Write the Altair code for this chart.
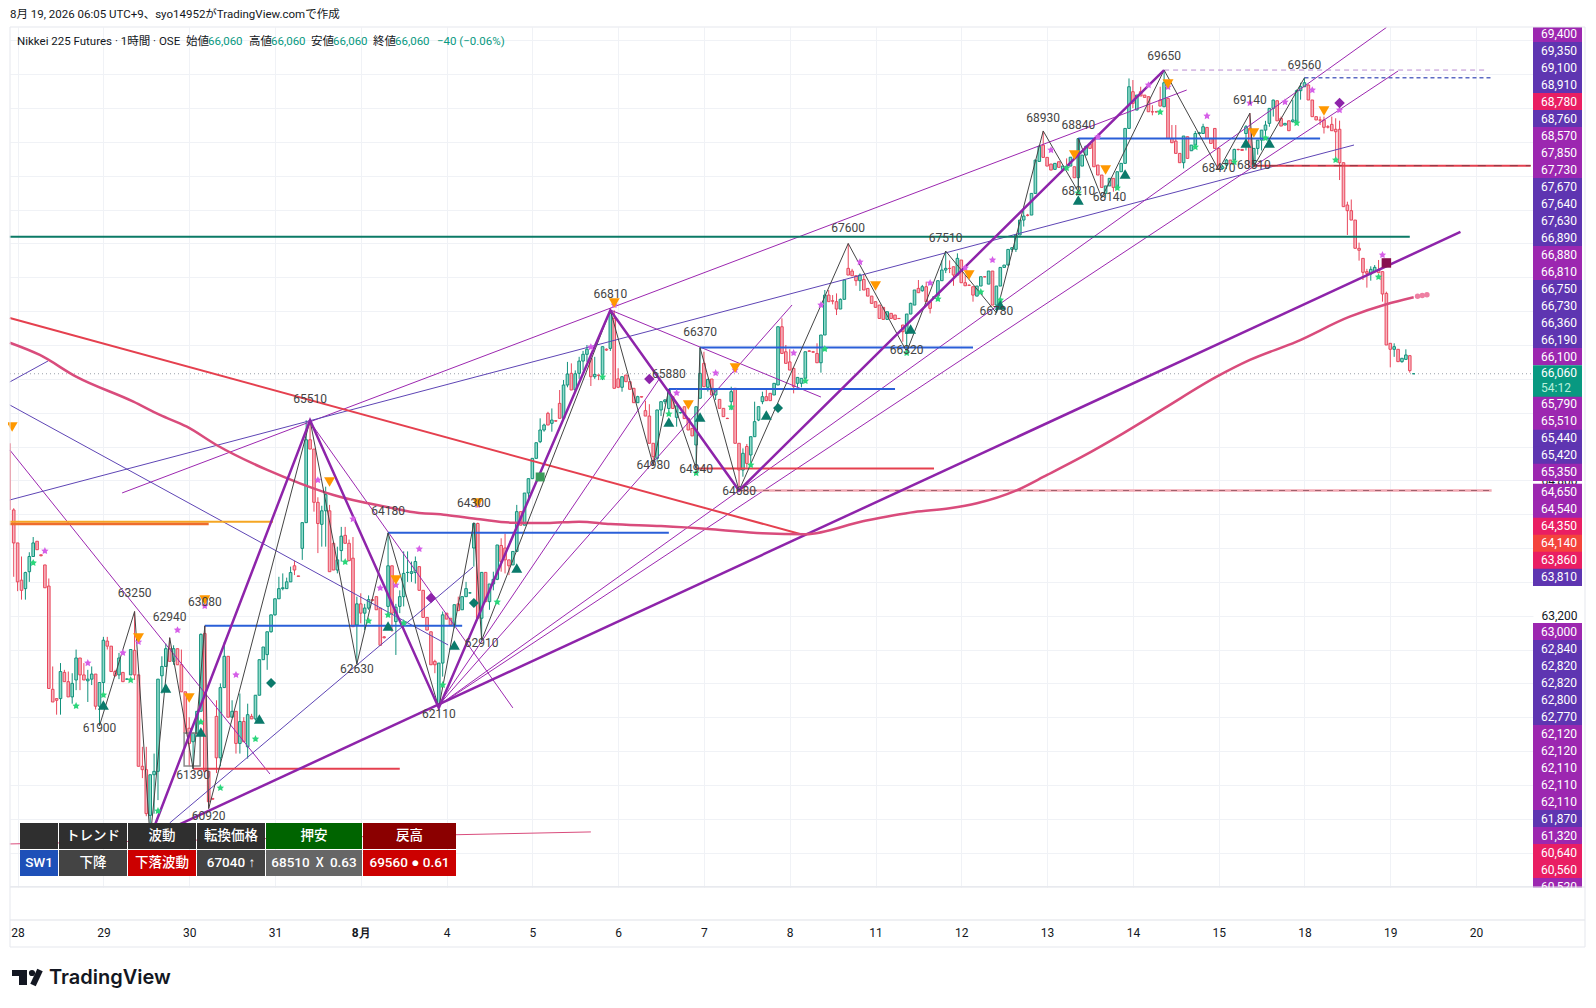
import altair as alt
import pandas as pd

# candles: (open, close, high, low), one bar per hour
S1 = [(64450,64060,64470,63660),(64060,63600,64060,63490),(63620,63500,63900,63390),(63520,63710,63720,63390),
(63720,63900,63950,63600),(63900,64060,64130,63900),(64080,63980,64080,63980),(63920,63910,63920,63900),
(63800,63530,63800,63530),(63550,62340,63640,62340),(62330,62180,62600,62180),(62220,62200,62220,62030),
(62220,62540,62640,62030),(62530,62420,62560,62420),(62420,62240,62540,62240),(62240,62400,62520,62160),
(62440,62700,62800,62320),(62700,62500,62700,62320),(62500,62440,62640,62440),(62430,62450,62560,62180),
(62450,62510,62600,62380),(62510,62130,62510,62090),(62130,62410,62410,61900),(62410,62910,62950,62280),
(62900,62840,62950,62800),(62840,62540,62840,62540),(62540,62490,62560,62480),(62500,62700,62760,62450),
(62530,62420,62530,62420),(62450,62450,62460,62440),(62500,62800,62800,62500),(62790,62500,63250,62440),
(62500,61420,62500,61420),(61420,61380,61650,61280),(61380,60860,61650,60830),(60840,61320,61320,60560),
(61320,61360,61570,60860),(61360,62450,62450,61020),(62490,62600,62720,62280),(62600,62810,62870,62600),
(62810,62660,62940,62660),(62660,62810,62850,62620),(62810,62620,62810,62620),(62620,62300,62800,62300),
(62300,61810,62300,61810),(61870,61690,62000,61420),(61710,61810,61820,61390),(61810,62070,62070,61810),
(62070,62980,62990,62070),(62990,61360,63080,61360),(61360,61000,61360,60920),(61040,61030,61040,61030),
(62010,61520,62200,61340),(61520,62350,62400,61420),(62350,62720,62890,62350),(62720,62000,62720,62000),
(62000,62070,62200,62000),(62070,61690,62070,61570),(61690,61950,62280,61570),(61950,61710,62000,61710),
(61650,62030,62160,61510),(62010,61980,62040,61980),(61980,62260,62260,61960),(62260,62680,62680,62260),
(62680,62830,62830,62680),(62740,63010,63010,62560),(63010,63210,63210,63000),(63210,63400,63400,63200),
(63400,63520,63660,63400),(63520,63530,63700,63500),(63520,63600,63650,63520),(63600,63710,63780,63600),
(63790,63740,63850,63680),(63670,63665,63670,63660)]
S2 = [(63996,64300,64300,63860),(64300,65280,65510,64300),(65280,65170,65510,65170),(65170,64540,65170,64430),
(64540,64290,64600,63940),(64280,64440,64500,64016),(64440,64630,64725,64016),(64440,63720,64510,63720),
(64056,63740,64056,63740),(63740,63860,64016,63700),(63970,64140,64250,63840),(64150,64056,64250,64056),
(64056,63850,64100,63850),(63880,63070,64130,63070),(63090,63340,63425,62630),(63340,63230,63465,63110),
(63230,63290,63340,63030),(63290,63390,63440,63270),(63390,63380,63400,63370),(63425,63270,63425,63270),
(63290,62850,63290,62850),(62950,62940,62960,62930),(63310,63790,64180,63230),(63790,63230,63790,63010),
(63130,63300,63340,62736),(63310,63425,63500,63230),(63425,63700,63960,63310),(63710,63712,63960,63600),
(63700,63720,63840,63600),(63710,63840,63900,63580),(63780,63500,63780,63500),(63500,63180,63500,63180),
(63180,63030,63180,63030),(63010,62620,63010,62620),(62660,62620,62680,62520),(62160,62640,62640,62110),
(62640,63210,63250,62480),(63230,63160,63230,63160),(63170,63090,63170,63090),(63090,63330,63330,63050),
(63340,63260,63425,63260),(63270,63425,63425,63270),(63425,63520,63600,63425),(63470,63470,63480,63460),
(64000,64290,64290,63780),(64290,63170,64300,63170),(63170,63712,63712,62910),(63712,63366,63712,63366),
(63366,63575,63575,63270),(63575,63630,63720,63500),(63630,64036,64036,63620),(64030,63840,64115,63720),
(64000,63860,64170,63700),(63860,63790,63860,63680),(63800,63960,63960,63800),(63960,64430,64510,63960),
(64430,64270,64430,64270),(64270,64650,64650,64270),(64650,64820,64820,64570),(64820,65060,65060,64820),
(65060,65245,65245,65060),(65257,65395,65533,65240),(65395,65454,65470,65375),(65592,65454,65610,65454),
(65474,65513,65650,65375),(65505,65500,65510,65495),(65710,65533,65868,65533),(65533,65927,65986,65533)]
S3 = [(65927,66057,66200,65900),(66065,65868,66183,65868),(65870,66060,66100,65850),(66065,66210,66260,66000),
(66210,66290,66330,66100),(66290,66350,66400,66200),(66240,66025,66300,65915),(66025,66053,66260,66000),
(66045,66040,66050,65985),(66053,66380,66380,65985),(66350,66340,66360,66330),(66360,66774,66810,66330),
(66715,65888,66810,65888),(66000,65900,66125,65890),(65900,66025,66025,65848),(66045,65966,66045,65966),
(65966,65876,65966,65876),(65888,65718,65888,65718),(65718,65789,65800,65718),(65789,65785,65790,65780),
(65624,65560,65742,65560),(65560,65238,65700,65238),(65238,65080,65238,64980),(65060,65632,65632,65020),
(65632,65730,65730,65560),(65730,65750,65760,65700),(65650,65870,65880,65600),(65789,65650,65789,65650),
(65545,65680,65680,65435),(65600,65600,65610,65590),(65670,65530,65670,65530),(65533,65395,65533,65395),
(65415,65325,65415,65325),(65218,65670,65670,64940),(65770,66065,66370,65770),(66183,65907,66320,65907),
(65900,65994,66000,65850),(65998,65809,65998,65809),(65809,65870,65870,65750),(65757,65651,65757,65651),
(65651,65553,65651,65553),(65533,65530,65540,65525),(65730,65848,65907,65630),(65888,65238,65888,65238),
(65238,64922,65238,64680),(64922,65120,65178,64843),(65200,65000,65230,64950),(65100,65316,65316,64981),
(65316,65494,65730,65316),(65513,65671,65671,65500),(65730,65789,65848,65700),(65789,65742,65868,65742),
(65829,65742,65829,65742),(65809,65947,65947,65809),(65927,66616,66616,65927),(66616,66300,66715,66300),
(66320,66183,66400,66183),(66200,66104,66350,66104),(66124,65907,66124,65828),(65947,66017,66017,65900),
(65947,66006,66006,65900),(66006,66320,66320,66006),(66330,66325,66340,66320),(66320,66315,66330,66310),
(66300,66190,66420,66190),(66190,66518,66518,66073),(66518,66990,67050,66518),(66990,66912,67050,66912),
(66923,66918,66990,66880),(66912,66825,67010,66754),(66825,66940,66950,66825),(66940,67168,67168,66940)]
S4 = [(67306,67227,67600,67227),(67274,67219,67300,67219),(67219,67160,67219,67100),(67160,67227,67246,67038),
(67175,67050,67227,67050),(67069,66978,67069,66978),(66978,66892,66978,66892),(66912,66845,66912,66845),
(66872,66714,66872,66714),(66845,66703,66845,66703),(66703,66793,66793,66703),(66774,66714,66774,66714),
(66754,66703,66754,66703),(66714,66712,66716,66710),(66636,66557,66636,66439),(66537,66766,66766,66320),
(66766,66892,66900,66766),(66872,67050,67050,66872),(67069,67018,67168,67018),(67041,67089,67110,67030),
(67089,66912,67148,66912),(66912,66833,66912,66773),(66951,66971,66971,66951),(66978,67160,67160,66978),
(67160,67286,67400,67160),(67286,67306,67510,67250),(67306,67304,67400,67250),(67325,67227,67325,67100),
(67227,67424,67483,67227),(67404,67136,67404,67136),(67136,67100,67227,67100),(67108,67105,67112,67100),
(67089,66990,67089,66912),(66978,67097,67097,66978),(67097,67207,67207,67097),(67207,67205,67210,67200),
(67120,67274,67274,67120),(67274,66872,67274,66872),(66872,67097,67097,66780),(67097,67317,67317,67097),
(67317,67345,67345,67317),(67345,67530,67530,67345),(67530,67550,67550,67500),(67530,67700,67700,67500),
(67700,67877,67877,67700),(67877,67924,67995,67800),(67936,67932,67950,67920),(67936,68192,68192,67936)]
S5 = [(68192,68586,68586,68192),(68570,68750,68750,68570),(68763,68618,68930,68618),(68618,68515,68618,68515),
(68539,68468,68539,68468),(68476,68547,68547,68476),(68566,68500,68566,68500),(68476,68515,68515,68476),
(68507,68505,68606,68500),(68515,68620,68620,68515),(68507,68377,68507,68377),(68377,68840,68840,68210),
(68515,68645,68645,68515),(68645,68750,68750,68645),(68775,68724,68775,68724),(68830,68507,68840,68507),
(68527,68409,68527,68409),(68409,68263,68409,68263),(68192,68280,68280,68140),(68280,68370,68370,68280),
(68370,68263,68370,68212),(68251,68448,68448,68251),(68448,68547,68547,68448),(68547,68960,68960,68547),
(68960,69453,69551,68960),(69394,69256,69532,69200),(69177,69354,69354,69177),(69394,69343,69453,69343),
(69354,69327,69354,69327),(69335,69157,69335,69157),(69157,69155,69235,69115),(69157,69155,69160,69150),
(69295,69224,69453,69224),(69216,69500,69650,69216),(69315,68842,69315,68842),(68842,68791,69000,68791),
(68810,68665,69000,68665),(68665,68555,68665,68555),(68555,68870,68870,68487),(68862,68606,68862,68606),
(68696,68763,68763,68696),(68763,68900,68930,68763),(68900,68910,68920,68890),(68900,68980,69015,68900),
(68972,68842,68972,68842),(68842,68783,68842,68783),(68960,68724,68960,68724),(68724,68487,68724,68470)]
S6 = [(68487,68507,68530,68470),(68527,68586,68600,68480),(68586,68540,68586,68540),(68586,68712,68720,68540),
(68712,68710,68720,68700),(68712,68700,68712,68700),(68900,68980,69000,68700),(68960,68507,69140,68507),
(68507,68724,68724,68510),(68724,68822,68822,68650),(68822,68940,68940,68700),(68940,69000,69050,68880),
(69020,69197,69200,68980),(69197,69295,69300,69100),(69287,69050,69290,69050),(69078,68988,69100,68988),
(69000,69020,69020,69000),(69050,68933,69050,68933),(69040,69060,69300,69030),(69039,69406,69420,69039),
(69406,69453,69500,69300),(69453,69500,69560,69450),(69473,69296,69480,69296),(69296,69099,69296,69099),
(69099,69060,69099,69060),(69060,69058,69100,69000),(69060,68973,69100,68900),(68980,68975,69000,68960),
(69008,68933,69100,68933),(68950,68921,69080,68587),(68950,68555,69052,68350),(68555,68035,68555,68035)]
S7 = [(68055,67988,68094,67700),(67988,67877,68120,67877),(67877,67543,67877,67543),(67543,67520,67610,67397),
(67424,67259,67424,67168),(67267,67247,67300,67078),(67239,67294,67330,67160),(67267,67318,67345,67250),
(67286,67255,67405,67255),(67267,67003,67267,66912),(67010,66400,67030,66400),(66420,66349,66420,66136),
(66349,66380,66420,66260),(66349,66203,66349,66203),(66203,66243,66243,66190),(66230,66282,66349,66230),
(66274,66097,66274,66073),(66060,66060,66060,66060)]

DAY_LABELS = ["28","29","30","31","8月","4","5","6","7","8","11","12","13","14","15","18","19","20"]
Y_LABELS_SHOWN = [63200, 64800]

ZIGZAG = [(22,61900),(31,63250),(35,60560),(40,62940),(46,61390),(49,63080),(50,60920),(76,65510),(88,62630),(96,64180),
(109,62110),(118,64300),(120,62910),(153,66810),(164,64980),(168,65880),(175,64940),(176,66370),(186,64680),(214,67600),
(229,66320),(239,67510),(252,66780),(264,68930),(273,68210),(273,68840),(279,68140),(295,69650),(309,68470),(317,69140),
(318,68510),(331,69560)]
# pivot captions: (text, bar, price level of the caption's middle)
PIVOT_TEXT = [("61900",22,61873),("63250",31,63469),("60560",35,60490),("62940",40,63185),("61390",46,61318),("63080",49,63362),
("60920",50,60833),("65510",76,65762),("62630",88,62570),("64180",96,64438),("62110",109,62039),("64300",118,64532),
("62910",120,62878),("66810",153,67003),("64980",164,64982),("65880",168,66057),("64940",175,64934),("66370",176,66554),
("64680",186,64674),("67600",214,67783),("66320",229,66341),("67510",239,67665),("66780",252,66802),("68930",264,69083),
("68210",273,68220),("68840",273,69000),("68140",281,68150),("69650",295,69816),("68470",309,68492),("69140",317,69296),
("68510",318,68528),("69560",331,69710)]
THICK_ZZ = [(36,60700),(76,65510),(109,62110),(153,66810),(186,64680),(295,69650)]
MA = [(-1,66427),(6.7,66282),(16,66026),(30.7,65730),(37.5,65573),(44.4,65434),(52,65218),(65,64923),(73.4,64765),(82,64627),
(97.3,64470),(101.6,64430),(111,64390),(119.6,64340),(128,64300),(136.7,64296),(145,64312),(153,64283),(166,64259),(179,64222),
(192,64174),(203,64162),(218,64319),(231,64427),(240,64470),(247,64529),(257,64678),(265,64864),(274,65080),(284.5,65356),
(295,65650),(308.5,66025),(317,66223),(329,66440),(342.6,66735),(352,66881),(359,66964)]
MA_TAIL = [(360,66975),(361.2,66985),(362.4,66995)]

PURPLE, INDIGO, RED, PINK, BLUE = "#9c27b0", "#5e45b5", "#e5404f", "#d94c7c", "#2a5fd8"
LINES = [
 ([(-1,65159),(65.7,61329)], PURPLE, 1, None),
 ([(27.8,64651),(300.8,69414)], PURPLE, 1, None),
 ([(-1,64568),(343.7,68764)], INDIGO, 1, None),
 ([(-1,65691),(111.4,62854)], INDIGO, 1, None),
 ([(-1,65963),(8.8,66211)], INDIGO, 1, None),
 ([(75.7,65510),(128,62110)], PURPLE, 1, None),
 ([(153,66814),(207,65785)], PURPLE, 1, None),
 ([(108.8,62133),(165.7,66010)], PURPLE, 1, None),
 ([(108.8,62133),(199.6,66873)], PURPLE, 1, None),
 ([(108.8,62133),(352,70153)], PURPLE, 1, None),
 ([(108.8,62133),(355,69639)], PURPLE, 1, None),
 ([(40,60750),(117.8,63776)], INDIGO, 1, None),
 ([(-1,60502),(148,60644)], PINK, 1, None),
 ([(-1,64310),(66.5,64310)], "#f5a623", 2, None),
 ([(-1,64285),(50,64285)], "#ef6c2c", 2.5, None),
 ([(-1,67680),(358,67680)], "#0b7a66", 2, None),
 ([(49,63080),(115,63080)], BLUE, 2, None),
 ([(96,64180),(168,64180)], BLUE, 2, None),
 ([(168,65880),(226,65880)], BLUE, 2, None),
 ([(176,66370),(246,66370)], BLUE, 2, None),
 ([(273,68840),(335,68840)], BLUE, 2, None),
 ([(46,61390),(99,61390)], RED, 2, None),
 ([(175,64940),(236,64940)], RED, 2, None),
 ([(318,68520),(389,68520)], RED, 2, None),
 ([(318,68520),(389,68520)], "#8a3a46", 1, [8,8]),
 ([(186,64680),(379,64680)], "#f2a9b3", 2.5, None),
 ([(186,64680),(379,64680)], "#a0606c", 1, [6,6]),
 ([(295,69650),(378,69650)], "#b98ad0", 1, [5,4]),
 ([(331,69560),(379,69560)], "#5c6ac4", 1.5, [4,3]),
 ([(-1,66719),(202.6,64154)], RED, 2, None),
 ([(39.6,60672),(371,67736)], "#8e24aa", 2.5, None),
]

TRI_DOWN = [(-0.4,65430),(32,62937),(49,63386),(45,62228),(81,64781),(98,63622),(119,64533),(154,66897),(173,65691),(185,66128),
(221,67097),(245,67228),(272,68646),(280,68469),(296,69485),(318,68906),(336,69166)]
TRI_UP = [(23,62145),(39,62346),(48,61826),(63,61980),(96,63079),(113,62854),(129,63764),(168,65490),(176,65549),(193,65573),
(230,66589),(253,66873),(273,68114),(285,68421),(316,68788),(322,68788)]
DIA_TEAL = [(66,62405),(118,63350),(196,65656)]
DIA_PURPLE = [(107,63410),(163,65998),(340,69260)]
SQ_GREEN = [(135,64840)]
SQ_CRIMSON = [(352,67370)]
STAR_GREEN = [(5,63824),(16,62133),(23,62263),(30,62440),(37,60892),(48,61944),(53,61164),(62,61743),(85,63835),(91,63138),
(96,63209),(100,63114),(110,62381),(124,63362),(151,66022),(168,65585),(175,64887),(184,65667),(189,64982),(203,65975),
(208,66353),(229,66306),(237,66944),(248,67027),(253,66932),(270,68492),(273,68197),(283,68256),(294,69154),(303,68740),
(313,68563),(321,68847),(329,69024),(339,68587),(350,67204)]
STAR_PINK = [(8,63965),(19,62641),(28,62760),(32,62890),(42,63031),(49,63315),(57,62500),(78,64804),(87,64343),(94,63528),
(98,63563),(104,63989),(119,64509),(148,66376),(154,66873),(170,65833),(180,66069),(185,66105),(200,66306),(207,66873),
(217,67381),(235,67133),(244,67310),(251,67405),(266,68705),(278,68859),(291,69473),(296,69450),(306,69107),(317,69260),
(326,69272),(333,69414),(340,69178),(351,67464)]

P, I, C, O, T = "#9c27b0", "#5e35b1", "#e91e63", "#f4433c", "#089981"
TAGS_1 = [("69,400",P),("69,350",I),("69,100",I),("68,910",I),("68,780",C),("68,760",I),("68,570",P),("67,850",P),("67,730",P),
("67,670",I),("67,640",I),("67,630",I),("66,890",I),("66,880",P),("66,810",P),("66,750",I),("66,730",I),("66,360",I),("66,190",I),("66,100",P)]
TAGS_2 = [("65,790",P),("65,510",P),("65,440",I),("65,420",I),("65,350",P)]
TAGS_3 = [("64,650",P),("64,540",P),("64,350",C),("64,140",O),("63,860",C),("63,810",I)]
TAGS_4 = [("63,000",P),("62,840",I),("62,820",I),("62,820",I),("62,800",I),("62,770",I),("62,120",P),("62,120",P),("62,110",P),
("62,110",P),("62,110",P),("61,870",I),("61,320",P),("60,640",C),("60,560",C),("60,520",P)]

TABLE = [
 (20,58,823,849,"","#2f2f2f"),(59,127,823,849,"トレンド","#2f2f2f"),(128,196,823,849,"波動","#2f2f2f"),(197,265,823,849,"転換価格","#2f2f2f"),
 (266,362,823,849,"押安","#006400"),(363,456,823,849,"戻高","#8b0000"),
 (20,58,850,876,"SW1","#1e50b8"),(59,127,850,876,"下降","#444444"),(128,196,850,876,"下落波動","#cc0000"),(197,265,850,876,"67040 ↑","#444444"),
 (266,362,850,876,"68510 Ⅹ 0.63","#666666"),(363,456,850,876,"69560 ● 0.61","#cc0000"),
]
HEADER = "8月 19, 2026 06:05 UTC+9、syo14952がTradingView.comで作成"
LEGEND_BITS = [(17,"Nikkei 225 Futures · 1時間 · OSE","#131722"),(186,"始値","#131722"),(208,"66,060",T),(249,"高値","#131722"),(271,"66,060",T),
 (311,"安値","#131722"),(333,"66,060",T),(373,"終値","#131722"),(395,"66,060",T),(437,"−40 (−0.06%)",T)]

# --- layout of the plot area on the page
OX, OY, W, H = 10, 27, 1523, 860
FONT, JP = "Roboto", "Roboto, 'Liberation Sans', 'Noto Sans CJK JP'"
x_scale = alt.Scale(domain=[-0.95, 389.6], nice=False, zero=False, padding=0)
y_scale = alt.Scale(domain=[59993, 70159], nice=False, zero=False)

bars = []
for k, (o, c, h, l) in enumerate(S1 + S2 + S3 + S4 + S5 + S6 + S7):
    bars.append(dict(i=k, o=o, c=c, h=max(h, o, c), l=min(l, o, c), d="up" if c >= o else "dn"))
bars = pd.DataFrame(bars)
ticks = [1 + 22 * d for d in range(len(DAY_LABELS))]
names = "[" + ",".join("'%s'" % s for s in DAY_LABELS) + "]"
shown = "||".join("datum.value==%d" % v for v in Y_LABELS_SHOWN)
X_AXIS = alt.Axis(values=ticks, labelExpr=names + "[(datum.value-1)/22]", title=None, ticks=False, domain=False,
    grid=True, gridColor="#f0f2f6", labelPadding=40, labelFontSize=12, labelColor="#131722", labelFont=FONT, labelAngle=0,
    labelFontWeight=alt.expr("datum.value==89?'bold':'normal'"), labelOverlap=False)
Y_AXIS = alt.Axis(orient="right", values=list(range(60000, 70001, 400)), labelExpr="(" + shown + ")?format(datum.value,',d'):''", title=None, ticks=False, domain=False,
    grid=True, gridColor="#f0f2f6", labelPadding=8, labelFontSize=12, labelColor="#131722", labelFont=FONT, labelAlign="left", labelOverlap=False)
def xq(f):
    return alt.X(f, scale=x_scale, axis=X_AXIS)
def yq(f):
    return alt.Y(f, scale=y_scale, axis=Y_AXIS)
XE, YE = xq("i:Q"), yq("p:Q")

def pts(rows):
    return pd.DataFrame(rows, columns=["i", "p"])

layers = []
STROKE = alt.Stroke("d:N", scale=alt.Scale(domain=["up", "dn"], range=["#12917c", "#e8475c"]), legend=None)
layers.append(alt.Chart(pd.DataFrame([dict(a=-0.95, b=389.6, p=66060)])).mark_rule(color="#9aa0aa", strokeDash=[1, 3], strokeWidth=1).encode(
    x=xq("a:Q"), x2="b:Q", y=YE))
layers.append(alt.Chart(bars).mark_rule(strokeWidth=1).encode(x=XE, y=yq("l:Q"), y2="h:Q", stroke=STROKE))
layers.append(alt.Chart(bars).mark_bar(size=2.6, strokeWidth=1).encode(
    x=XE, y=yq("o:Q"), y2="c:Q",
    fill=alt.Fill("d:N", scale=alt.Scale(domain=["up", "dn"], range=["#8fdcca", "#f7b3bd"]), legend=None),
    stroke=STROKE))

layers.append(alt.Chart(pts([(-0.87,65238),(-0.87,64450)])).mark_line(color="#e8475c", strokeWidth=1).encode(x=XE, y=YE))
layers.append(alt.Chart(pd.DataFrame([dict(a=43.7,b=47.8,p=61814,q=61424)])).mark_rect(fillOpacity=0, stroke="#8a8a8a", strokeWidth=1.5).encode(
    x=xq("a:Q"), x2="b:Q", y=YE, y2="q:Q"))

for rows, col, w, dash in LINES:
    kw = dict(color=col, strokeWidth=w)
    if dash:
        kw["strokeDash"] = dash
    layers.append(alt.Chart(pts(rows)).mark_line(**kw).encode(x=XE, y=YE))
layers.append(alt.Chart(pts(MA)).mark_line(color=PINK, strokeWidth=2.5, interpolate="monotone").encode(x=XE, y=YE))
layers.append(alt.Chart(pts(MA_TAIL)).mark_point(color="#ee7fa2", filled=True, size=30, opacity=1).encode(x=XE, y=YE))
zz = pts(ZIGZAG).assign(n=range(len(ZIGZAG)))
layers.append(alt.Chart(zz).mark_line(color="#444444", strokeWidth=1).encode(x=XE, y=YE, order="n:Q"))
layers.append(alt.Chart(pts(THICK_ZZ)).mark_line(color="#8e24aa", strokeWidth=2.5).encode(x=XE, y=YE))

STAR = "M0,-1L0.29,-0.4L0.95,-0.31L0.48,0.15L0.59,0.81L0,0.5L-0.59,0.81L-0.48,0.15L-0.95,-0.31L-0.29,-0.4Z"
for rows, shape, col, size in [
    (STAR_GREEN, STAR, "#2bd67b", 60), (STAR_PINK, STAR, "#d65fe8", 60),
    (TRI_DOWN, "triangle-down", "#ff9800", 120), (TRI_UP, "triangle-up", "#0b7a6b", 120),
    (DIA_TEAL, "diamond", "#0b7a6b", 100), (DIA_PURPLE, "diamond", "#8e24aa", 110),
    (SQ_GREEN, "square", "#3a9a5a", 80), (SQ_CRIMSON, "square", "#880e4f", 90)]:
    layers.append(alt.Chart(pts(rows)).mark_point(shape=shape, filled=True, color=col, size=size, opacity=1).encode(x=XE, y=YE))

cap = pd.DataFrame(PIVOT_TEXT, columns=["t", "i", "p"])
layers.append(alt.Chart(cap).mark_text(font=FONT, fontSize=12, color="#444444").encode(x=XE, y=YE, text="t:N"))

# --- panel pieces placed on the page, outside the data scales
def rects(rows):
    df = pd.DataFrame(rows, columns=["x0", "x1", "y0", "y1", "f"])
    df[["x0", "x1"]] -= OX
    df[["y0", "y1"]] -= OY
    return alt.Chart(df).mark_rect().encode(
        x=alt.X("x0:Q", scale=None, axis=None), x2="x1:Q",
        y=alt.Y("y0:Q", scale=None, axis=None), y2="y1:Q",
        fill=alt.Fill("f:N", scale=None))

def texts(rows, font=FONT, size=12, align="left", weight="normal", baseline="middle"):
    df = pd.DataFrame(rows, columns=["x", "y", "t", "f"])
    df["x"] -= OX
    df["y"] -= OY
    return alt.Chart(df).mark_text(font=font, fontSize=size, align=align, baseline=baseline, fontWeight=weight).encode(
        x=alt.X("x:Q", scale=None, axis=None), y=alt.Y("y:Q", scale=None, axis=None),
        text="t:N", fill=alt.Fill("f:N", scale=None))

# table
layers.append(rects([(a, b, c, d, f) for a, b, c, d, _, f in TABLE]))
layers.append(texts([((a + b) / 2, (c + d) / 2, t, "#ffffff") for a, b, c, d, t, _ in TABLE if t], font=JP, size=13.5, align="center", weight=500))

# price tags
tag_rects, tag_txt = [], []
def stack(tags, start):
    for k, (t, f) in enumerate(tags):
        yc = start + 17 * k
        tag_rects.append((1533, 1582, max(yc - 8.6, 27), yc + 8.6, f))
        tag_txt.append((1541, yc, t, "#ffffff"))
stack(TAGS_1, 33.7)
stack(TAGS_2, 404.3)
stack(TAGS_3, 492.3)
stack(TAGS_4, 631.7)
tag_rects.append((1533, 1582, 365.3, 396.7, T))
tag_txt += [(1541, 373.4, "66,060", "#ffffff"), (1541, 387.7, "54:12", "#b8f0dc")]
layers.append(rects(tag_rects))
layers.append(texts(tag_txt))
layers.append(rects([(1533, 1584, 887.5, 905, "#ffffff")]))

# frame
FR = "#e6e8ee"
layers.append(rects([(10, 1585, 26.5, 27.5, FR), (10, 1585, 886.5, 887.5, "#dfe2e8"), (10, 1585, 919.5, 920.5, "#dfe2e8"), (10, 1585, 946.5, 947.5, FR),
                     (9.5, 10.5, 27, 947, FR), (1584.5, 1585.5, 27, 947, FR)]))

# heading texts
layers.append(texts([(10, 15, HEADER, "#131722")], font=JP, size=11.5))
layers.append(texts([(x, 42, t, f) for x, t, f in LEGEND_BITS], font=JP, size=11.5))

# wordmark
layers.append(rects([(12, 27, 970, 976, "#131722"), (19, 27, 970, 985, "#131722")]))
layers.append(texts([(49, 978, "TradingView", "#131722")], font="Inter", size=20, weight=600))
layers.append(alt.Chart(pd.DataFrame([dict(x=32-OX, y=973-OY)])).mark_point(filled=True, color="#131722", size=38, opacity=1).encode(
    x=alt.X("x:Q", scale=None, axis=None), y=alt.Y("y:Q", scale=None, axis=None)))
slash = pd.DataFrame([dict(x=40-OX, y=970-OY, n=0), dict(x=33-OX, y=985-OY, n=1)])
layers.append(alt.Chart(slash).mark_line(color="#131722", strokeWidth=6).encode(
    x=alt.X("x:Q", scale=None, axis=None), y=alt.Y("y:Q", scale=None, axis=None), order="n:Q"))

chart = alt.layer(*layers).properties(
    width=W, height=H, background="#ffffff",
    padding={"left": OX - 8, "top": OY - 8, "right": 55, "bottom": 113},
    autosize=alt.AutoSizeParams(type="none"),
).configure_view(stroke=None)

chart.save("out.html", embed_options={"renderer": "svg", "actions": False})
